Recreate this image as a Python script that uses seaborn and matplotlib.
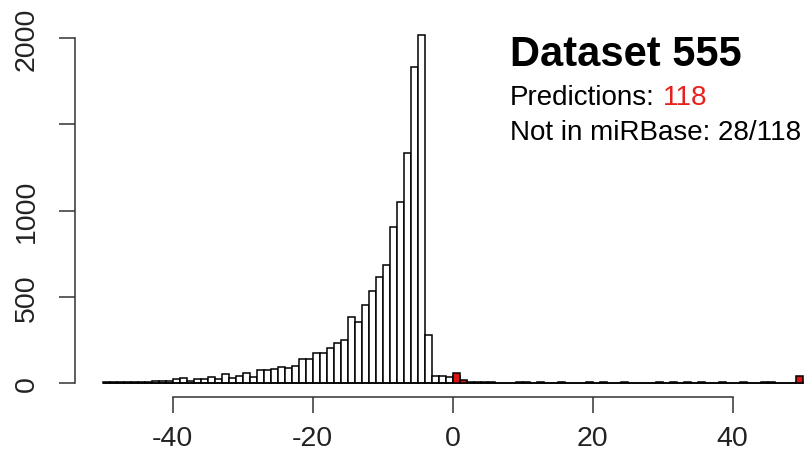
import numpy as np
import pandas as pd
import matplotlib
matplotlib.use("Agg")
import matplotlib.pyplot as plt
import seaborn as sns

# Histogram of scores: unit-width bins from -50 to 50
bin_edges = list(range(-50, 51))
bin_left = np.arange(-50, 50, 1)

all_counts = [
    3, 4, 4, 5, 6, 7, 8, 10, 12, 14,            # -50 .. -41
    25, 26, 14, 22, 24, 33, 25, 50, 28, 40,     # -40 .. -31
    56, 33, 76, 75, 79, 93, 87, 100, 139, 139,  # -30 .. -21
    173, 173, 201, 232, 251, 381, 352, 452, 536, 617,  # -20 .. -11
    684, 903, 1052, 1334, 1831, 2020, 278, 42, 40, 34,  # -10 .. -1
    40, 12, 5, 5, 4, 4, 1, 1, 1, 4,             # 0 .. 9
    4, 1, 4, 1, 1, 4, 1, 1, 1, 4,               # 10 .. 19
    1, 4, 1, 1, 4, 1, 1, 1, 1, 4,               # 20 .. 29
    1, 4, 1, 4, 1, 4, 1, 1, 4, 1,               # 30 .. 39
    1, 4, 1, 1, 5, 8, 2, 2, 2, 6,               # 40 .. 49
]

# Predicted hairpins, overlaid in red
pred_left = [0, 1, 49]
pred_counts = [58, 20, 40]

title = "Dataset 555"
n_pred = 118
n_novel = 28

y_ticks = [0, 500, 1000, 1500, 2000]
y_tick_labels = ["0", "500", "1000", "", "2000"]
x_ticks = [-40, -20, 0, 20, 40]

sns.set_theme(style="white")
plt.rcParams["font.family"] = ["Liberation Sans", "DejaVu Sans"]
plt.rcParams["axes.unicode_minus"] = False

df_all = pd.DataFrame({"score": bin_left + 0.5, "count": all_counts})
df_pred = pd.DataFrame({"score": np.array(pred_left) + 0.5, "count": pred_counts})

W, H = 805, 460
fig = plt.figure(figsize=(W / 100, H / 100), dpi=100)
ax = fig.add_axes([74.5 / W, 1 - 397.9 / H, 756 / W, 376 / H])

sns.histplot(data=df_all, x="score", weights="count", bins=bin_edges,
             color="white", edgecolor="black", linewidth=1.1, alpha=1, ax=ax)
sns.histplot(data=df_pred, x="score", weights="count", bins=bin_edges,
             color="#d81414", edgecolor="black", linewidth=1.1, alpha=1, ax=ax)

ymax = max(all_counts)
ax.set_xlim(-54, 54)
ax.set_ylim(-0.04 * ymax, 1.04 * ymax)
ax.set_xlabel("")
ax.set_ylabel("")

for side in ["top", "right"]:
    ax.spines[side].set_visible(False)
for side in ["left", "bottom"]:
    ax.spines[side].set_color("#333333")
    ax.spines[side].set_linewidth(1.1)
ax.spines["left"].set_bounds(0, 2000)
ax.spines["bottom"].set_bounds(-40, 40)

ax.set_xticks(x_ticks)
ax.set_xticklabels([str(v) for v in x_ticks])
ax.set_yticks(y_ticks)
ax.set_yticklabels(y_tick_labels, rotation=90, va="center")
ax.tick_params(axis="both", which="major", bottom=True, left=True,
               direction="out", length=11.5, width=1.1,
               color="#333333", labelsize=20.5, labelcolor="#222222")
ax.tick_params(axis="x", pad=8.5)
ax.tick_params(axis="y", pad=13.5)
ax.grid(False)

# Annotation block
x0 = 510 / W
fig.text(x0, 1 - 66 / H, title, fontsize=30, fontweight="bold",
         color="black", ha="left", va="baseline")
t_pred = fig.text(x0, 1 - 105 / H, "Predictions:", fontsize=20,
                  color="black", ha="left", va="baseline")
fig.canvas.draw()
ax.annotate(str(n_pred), xy=(1, 0), xycoords=t_pred, xytext=(5.6, 0),
            textcoords="offset points", fontsize=20, color="#e8201c",
            ha="left", va="bottom", annotation_clip=False)
fig.text(x0, 1 - 140 / H, f"Not in miRBase: {n_novel}/{n_pred}", fontsize=20,
         color="black", ha="left", va="baseline")

fig.savefig("out.png", dpi=100, facecolor="white")
